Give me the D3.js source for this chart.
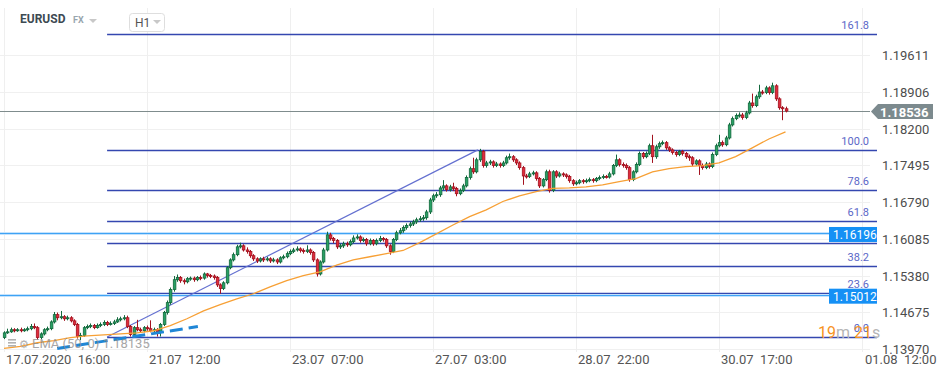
<!DOCTYPE html>
<html>
<head>
<meta charset="utf-8">
<script src="https://cdn.jsdelivr.net/npm/d3@7/dist/d3.min.js"></script>
<style>
  body { margin: 0; background: #fff; font-family: Roboto, "Noto Sans", sans-serif; }
</style>
</head>
<body>
<div id="chart"></div>
<script>
// EURUSD H1 candles
var firstOpen = 1.1419;
var closes = [
  1.1428,1.1430,1.1434,1.1432,1.1434,1.1432,1.1434,1.1436,1.1440,1.1438,
  1.1419,1.1426,1.1434,1.1436,1.1449,1.1463,1.1457,1.1459,1.1455,1.1457,
  1.1451,1.1444,1.1421,1.1423,1.1438,1.1440,1.1442,1.1438,1.1442,1.1444,
  1.1448,1.1444,1.1446,1.1449,1.1453,1.1455,1.1457,1.1440,1.1425,1.1438,
  1.1434,1.1432,1.1438,1.1436,1.1432,1.1434,1.1430,1.1444,1.1467,1.1486,
  1.1511,1.1530,1.1534,1.1528,1.1526,1.1532,1.1533,1.1530,1.1534,1.1533,
  1.1541,1.1538,1.1537,1.1534,1.1520,1.1513,1.1524,1.1553,1.1568,1.1578,
  1.1593,1.1595,1.1587,1.1584,1.1576,1.1570,1.1566,1.1570,1.1568,1.1570,
  1.1566,1.1568,1.1564,1.1572,1.1574,1.1580,1.1584,1.1587,1.1589,1.1586,
  1.1584,1.1587,1.1582,1.1568,1.1541,1.1564,1.1587,1.1616,1.1609,1.1605,
  1.1593,1.1595,1.1599,1.1597,1.1603,1.1610,1.1612,1.1605,1.1607,1.1599,
  1.1605,1.1599,1.1605,1.1609,1.1607,1.1595,1.1584,1.1607,1.1620,1.1624,
  1.1630,1.1634,1.1637,1.1641,1.1645,1.1647,1.1649,1.1660,1.1683,1.1691,
  1.1693,1.1706,1.1710,1.1703,1.1708,1.1705,1.1695,1.1701,1.1710,1.1726,
  1.1743,1.1737,1.1760,1.1776,1.1749,1.1754,1.1756,1.1749,1.1752,1.1749,
  1.1754,1.1764,1.1766,1.1760,1.1754,1.1745,1.1729,1.1728,1.1733,1.1735,
  1.1724,1.1710,1.1722,1.1737,1.1701,1.1737,1.1729,1.1733,1.1731,1.1728,
  1.1720,1.1714,1.1716,1.1720,1.1718,1.1720,1.1722,1.1720,1.1724,1.1726,
  1.1728,1.1727,1.1733,1.1749,1.1760,1.1751,1.1749,1.1745,1.1722,1.1737,
  1.1751,1.1772,1.1766,1.1772,1.1787,1.1766,1.1785,1.1791,1.1793,1.1783,
  1.1779,1.1774,1.1770,1.1776,1.1772,1.1766,1.1764,1.1752,1.1758,1.1749,
  1.1745,1.1752,1.1747,1.1770,1.1787,1.1793,1.1789,1.1802,1.1827,1.1839,
  1.1845,1.1846,1.1841,1.1850,1.1869,1.1864,1.1881,1.1890,1.1889,1.1898,
  1.1889,1.1902,1.1877,1.1860,1.1858,1.18536
];
var highs = [
  1.1431,1.1436,1.1438,1.1437,1.1437,1.1438,1.1437,1.1440,1.1445,1.1446,
  1.1441,1.1429,1.1437,1.1440,1.1452,1.1468,1.1467,1.1470,1.1462,1.1461,
  1.1460,1.1454,1.1447,1.1428,1.1441,1.1444,1.1446,1.1445,1.1446,1.1448,
  1.1452,1.1451,1.1450,1.1453,1.1458,1.1459,1.1462,1.1461,1.1443,1.1441,
  1.1453,1.1438,1.1441,1.1442,1.1452,1.1438,1.1437,1.1447,1.1470,1.1490,
  1.1515,1.1537,1.1540,1.1537,1.1532,1.1535,1.1536,1.1536,1.1537,1.1538,
  1.1544,1.1543,1.1541,1.1540,1.1537,1.1523,1.1527,1.1556,1.1571,1.1582,
  1.1597,1.1601,1.1598,1.1592,1.1587,1.1579,1.1573,1.1573,1.1574,1.1574,
  1.1573,1.1572,1.1571,1.1575,1.1578,1.1584,1.1588,1.1591,1.1594,1.1592,
  1.1590,1.1596,1.1590,1.1585,1.1571,1.1567,1.1591,1.1622,1.1620,1.1612,
  1.1608,1.1599,1.1603,1.1603,1.1607,1.1615,1.1617,1.1615,1.1611,1.1610,
  1.1609,1.1608,1.1609,1.1614,1.1612,1.1610,1.1598,1.1610,1.1624,1.1629,
  1.1634,1.1638,1.1641,1.1645,1.1649,1.1652,1.1654,1.1664,1.1687,1.1695,
  1.1698,1.1710,1.1721,1.1713,1.1712,1.1716,1.1708,1.1705,1.1714,1.1730,
  1.1747,1.1764,1.1764,1.1781,1.1779,1.1758,1.1760,1.1759,1.1756,1.1755,
  1.1758,1.1768,1.1772,1.1769,1.1763,1.1757,1.1748,1.1733,1.1737,1.1739,
  1.1738,1.1727,1.1725,1.1741,1.1741,1.1740,1.1740,1.1737,1.1736,1.1734,
  1.1731,1.1723,1.1720,1.1723,1.1723,1.1724,1.1726,1.1725,1.1727,1.1730,
  1.1732,1.1731,1.1737,1.1752,1.1770,1.1763,1.1755,1.1753,1.1748,1.1740,
  1.1755,1.1776,1.1775,1.1776,1.1791,1.1808,1.1789,1.1795,1.1797,1.1796,
  1.1786,1.1782,1.1777,1.1779,1.1779,1.1775,1.1770,1.1767,1.1761,1.1761,
  1.1753,1.1756,1.1755,1.1774,1.1791,1.1808,1.1797,1.1806,1.1831,1.1843,
  1.1849,1.1851,1.1850,1.1854,1.1873,1.1887,1.1885,1.1904,1.1894,1.1902,
  1.1901,1.1908,1.1905,1.1880,1.1863,1.1862
];
var lows = [
  1.1416,1.1426,1.1428,1.1429,1.1430,1.1429,1.1430,1.1431,1.1433,1.1435,
  1.1415,1.1416,1.1423,1.1431,1.1433,1.1446,1.1452,1.1454,1.1451,1.1452,
  1.1448,1.1441,1.1417,1.1414,1.1420,1.1435,1.1437,1.1435,1.1436,1.1439,
  1.1441,1.1441,1.1442,1.1443,1.1447,1.1450,1.1452,1.1437,1.1421,1.1422,
  1.1431,1.1428,1.1429,1.1432,1.1429,1.1428,1.1421,1.1421,1.1441,1.1463,
  1.1482,1.1507,1.1526,1.1524,1.1521,1.1523,1.1528,1.1526,1.1527,1.1529,
  1.1530,1.1534,1.1533,1.1530,1.1516,1.1503,1.1510,1.1521,1.1550,1.1565,
  1.1575,1.1590,1.1584,1.1580,1.1572,1.1566,1.1562,1.1563,1.1564,1.1565,
  1.1562,1.1563,1.1560,1.1561,1.1569,1.1571,1.1577,1.1581,1.1584,1.1582,
  1.1580,1.1581,1.1578,1.1564,1.1536,1.1538,1.1561,1.1584,1.1605,1.1600,
  1.1589,1.1589,1.1591,1.1593,1.1594,1.1600,1.1607,1.1601,1.1602,1.1595,
  1.1596,1.1595,1.1596,1.1602,1.1603,1.1591,1.1578,1.1581,1.1604,1.1617,
  1.1620,1.1626,1.1630,1.1633,1.1637,1.1641,1.1643,1.1645,1.1656,1.1679,
  1.1687,1.1689,1.1702,1.1699,1.1699,1.1700,1.1690,1.1692,1.1698,1.1707,
  1.1722,1.1733,1.1734,1.1756,1.1745,1.1745,1.1750,1.1745,1.1746,1.1745,
  1.1746,1.1751,1.1760,1.1756,1.1750,1.1741,1.1712,1.1724,1.1725,1.1730,
  1.1720,1.1706,1.1707,1.1719,1.1697,1.1698,1.1725,1.1726,1.1727,1.1724,
  1.1716,1.1710,1.1711,1.1713,1.1714,1.1715,1.1717,1.1716,1.1717,1.1721,
  1.1723,1.1724,1.1724,1.1730,1.1746,1.1747,1.1745,1.1741,1.1718,1.1719,
  1.1734,1.1748,1.1762,1.1763,1.1769,1.1754,1.1762,1.1781,1.1788,1.1779,
  1.1775,1.1770,1.1766,1.1767,1.1768,1.1762,1.1758,1.1748,1.1749,1.1731,
  1.1741,1.1742,1.1743,1.1744,1.1767,1.1784,1.1785,1.1786,1.1799,1.1824,
  1.1836,1.1841,1.1837,1.1838,1.1847,1.1860,1.1861,1.1877,1.1885,1.1886,
  1.1885,1.1886,1.1873,1.1856,1.1836,1.1851
];

// EMA(50), one point every 5 bars
var emaIdx = d3.range(0, 236, 5).concat([235]);
var emaVals = [
  1.1398,1.1402,1.1409,1.1413,1.1419,1.1422,1.1424,1.1426,1.1428,1.1432,
  1.1442,1.1455,1.1470,1.1482,1.1493,1.1503,1.1516,1.1528,1.1538,1.1545,
  1.1558,1.1568,1.1574,1.1580,1.1586,1.1601,1.1618,1.1635,1.1651,1.1664,
  1.1680,1.1691,1.1699,1.1705,1.1706,1.1708,1.1712,1.1718,1.1724,1.1737,
  1.1743,1.1747,1.1749,1.1754,1.1766,1.1783,1.1800,1.18135
];

// axis ticks
var priceTicks = [1.13970, 1.14675, 1.15380, 1.16085, 1.16790, 1.17495, 1.18200, 1.18906, 1.19611];
var timeIdx = [0, 43, 86, 129, 172, 215, 258];
var timeLabels = ["17.07.2020  16:00", "21.07  12:00", "23.07  07:00", "27.07  03:00",
                  "28.07  22:00", "30.07  17:00", "01.08  12:00"];

// fibonacci retracement
var fibLevels = [0, 23.6, 38.2, 50, 61.8, 78.6, 100, 161.8];
var fibLowIdx = 31, fibLow = 1.1420;
var fibHighIdx = 142.5, fibHigh = 1.1779;

// other drawings
var hLevels = [1.16196, 1.15012];
var lastPrice = 1.18536;
var emaLast = 1.18135;
var dashIdx = [16, 58.3];
var dashVals = [1.1398, 1.1440];

var svgWidth = 945;
var svgHeight = 376;
var plotRight = 870;

var svg = d3.select("#chart")
  .append("svg")
  .attr("width", svgWidth)
  .attr("height", svgHeight)
  .style("font-family", "Roboto, 'Noto Sans', sans-serif");

var x = d3.scaleLinear().domain([0, 258]).range([4, 862]);
var y = d3.scaleLinear().domain([1.13970, 1.19611]).range([349, 55]);

// grid
svg.append("g").selectAll("line")
  .data(priceTicks)
  .join("line")
  .attr("x1", 0).attr("x2", plotRight)
  .attr("y1", d => Math.round(y(d)) + 0.5).attr("y2", d => Math.round(y(d)) + 0.5)
  .attr("stroke", "#f0f0f0");

svg.append("g").selectAll("line")
  .data(timeIdx)
  .join("line")
  .attr("x1", d => Math.round(x(d)) + 0.5).attr("x2", d => Math.round(x(d)) + 0.5)
  .attr("y1", 8).attr("y2", 352)
  .attr("stroke", "#efefef");

// right axis labels
svg.append("g").selectAll("text")
  .data(priceTicks)
  .join("text")
  .attr("x", 882)
  .attr("y", d => y(d) + 5)
  .attr("font-size", 13)
  .attr("fill", "#4d4d4d")
  .text(d => d.toFixed(5));

// bottom axis labels
svg.append("g").selectAll("text")
  .data(timeIdx)
  .join("text")
  .attr("x", (d, i) => i == timeIdx.length - 1 ? x(d) + 3 : x(d) + 2)
  .attr("y", 364)
  .attr("font-size", 13)
  .attr("fill", "#555")
  .style("white-space", "pre")
  .attr("xml:space", "preserve")
  .text((d, i) => timeLabels[i]);

// fib levels
var fibPrice = l => fibLow + (fibHigh - fibLow) * l / 100;
svg.append("g").selectAll("line")
  .data(fibLevels)
  .join("line")
  .attr("x1", x(fibLowIdx)).attr("x2", 877)
  .attr("y1", d => Math.round(y(fibPrice(d))) + 0.5)
  .attr("y2", d => Math.round(y(fibPrice(d))) + 0.5)
  .attr("stroke", "#3447b0")
  .attr("stroke-width", 1.3);

// horizontal blue levels
hLevels.forEach(function(v) {
  var ly = Math.round(y(v)) + 0.5;
  svg.append("line")
    .attr("x1", 0).attr("x2", plotRight)
    .attr("y1", ly).attr("y2", ly)
    .attr("stroke", "#c4e2fc").attr("stroke-width", 3);
  svg.append("line")
    .attr("x1", 0).attr("x2", plotRight)
    .attr("y1", ly).attr("y2", ly)
    .attr("stroke", "#3ea3f5").attr("stroke-width", 1);
});

// last price line
svg.append("line")
  .attr("x1", 0).attr("x2", plotRight)
  .attr("y1", Math.round(y(lastPrice)) + 0.5).attr("y2", Math.round(y(lastPrice)) + 0.5)
  .attr("stroke", "#7f8c8d");

// fib trend line
svg.append("line")
  .attr("x1", x(fibLowIdx)).attr("y1", y(fibLow))
  .attr("x2", x(fibHighIdx)).attr("y2", y(fibHigh))
  .attr("stroke", "#6470d0").attr("stroke-width", 1.2);

// candles
var candles = closes.map(function(c, i) {
  return { i: i, o: i == 0 ? firstOpen : closes[i - 1], c: c, h: highs[i], l: lows[i] };
});
var cg = svg.append("g");
cg.selectAll("line")
  .data(candles)
  .join("line")
  .attr("x1", d => Math.round(x(d.i)) + 0.5).attr("x2", d => Math.round(x(d.i)) + 0.5)
  .attr("y1", d => y(d.h)).attr("y2", d => y(d.l))
  .attr("stroke", d => d.c >= d.o ? "#13693d" : "#a3121f");
cg.selectAll("rect")
  .data(candles)
  .join("rect")
  .attr("x", d => Math.round(x(d.i)) - 0.7)
  .attr("width", 2.6)
  .attr("y", d => y(Math.max(d.o, d.c)))
  .attr("height", d => Math.max(1, Math.abs(y(d.o) - y(d.c))))
  .attr("fill", d => d.c >= d.o ? "#27a064" : "#df2c3c")
  .attr("stroke", d => d.c >= d.o ? "#13693d" : "#a3121f")
  .attr("stroke-width", 0.8);

// EMA 50
svg.append("path")
  .datum(emaIdx.map((d, i) => [d, emaVals[i]]))
  .attr("fill", "none")
  .attr("stroke", "#f7a035")
  .attr("stroke-width", 1.3)
  .attr("d", d3.line().x(d => x(d[0])).y(d => y(d[1])));

// dashed support line
svg.append("line")
  .attr("x1", x(dashIdx[0])).attr("y1", y(dashVals[0]))
  .attr("x2", x(dashIdx[1])).attr("y2", y(dashVals[1]))
  .attr("stroke", "#1f86d6").attr("stroke-width", 3)
  .attr("stroke-dasharray", "13,6");

// fib labels
svg.append("g").selectAll("text")
  .data(fibLevels)
  .join("text")
  .attr("x", 869)
  .attr("y", d => y(fibPrice(d)) - 5)
  .attr("text-anchor", "end")
  .attr("font-size", 11)
  .attr("fill", "#5b67c7")
  .text(d => d.toFixed(1));

// blue level tags
hLevels.forEach(function(v) {
  svg.append("rect")
    .attr("x", 829).attr("y", y(v) - 6).attr("width", 48).attr("height", 15)
    .attr("fill", "#1590f5");
  svg.append("text")
    .attr("x", 833).attr("y", y(v) + 6)
    .attr("font-size", 12).attr("fill", "#fff")
    .text(v.toFixed(5));
});

// last price tag
var ly = Math.round(y(lastPrice)) + 0.5;
svg.append("path")
  .attr("d", `M871,${ly} L878,${ly - 7.5} L933,${ly - 7.5} L933,${ly + 7.5} L878,${ly + 7.5} Z`)
  .attr("fill", "#7c8a8e");
svg.append("text")
  .attr("x", 880).attr("y", ly + 5)
  .attr("font-size", 13).attr("font-weight", "bold").attr("fill", "#fff")
  .text(lastPrice.toFixed(5));

// countdown
var timer = svg.append("text")
  .attr("x", 818).attr("y", 338)
  .attr("font-size", 16);
timer.append("tspan").attr("fill", "#f7931e").text("19");
timer.append("tspan").attr("fill", "#b5b5b5").text("m ");
timer.append("tspan").attr("fill", "#f7931e").text("21");
timer.append("tspan").attr("fill", "#b5b5b5").text("s");

// EMA legend
var lg = svg.append("g").attr("opacity", 0.75);
[0, 3, 6].forEach(function(dy) {
  lg.append("rect").attr("x", 8).attr("y", 339 + dy).attr("width", 8).attr("height", 1.6).attr("fill", "#999");
});
lg.append("text").attr("x", 19).attr("y", 348).attr("font-size", 11).attr("fill", "#999").text("⚙");
lg.append("text")
  .attr("x", 32).attr("y", 348)
  .attr("font-size", 13)
  .attr("fill", "#8a8a8a")
  .text("EMA (50, 0) " + emaLast.toFixed(5));

// header
svg.append("text")
  .attr("x", 20).attr("y", 23)
  .attr("font-size", 12).attr("font-weight", "bold").attr("fill", "#3d4a52")
  .text("EURUSD");
svg.append("text")
  .attr("x", 73).attr("y", 23)
  .attr("font-size", 9).attr("font-weight", "bold").attr("fill", "#98a6ae")
  .text("FX");
svg.append("path").attr("d", "M89,19 L97,19 L93,23 Z").attr("fill", "#c8c8c8");
svg.append("rect")
  .attr("x", 129.5).attr("y", 13.5).attr("width", 35).attr("height", 18).attr("rx", 3)
  .attr("fill", "#fff").attr("stroke", "#dedede");
svg.append("text")
  .attr("x", 135).attr("y", 27)
  .attr("font-size", 12).attr("fill", "#555")
  .text("H1");
svg.append("path").attr("d", "M153,20 L161,20 L157,24 Z").attr("fill", "#c8c8c8");
</script>
</body>
</html>
